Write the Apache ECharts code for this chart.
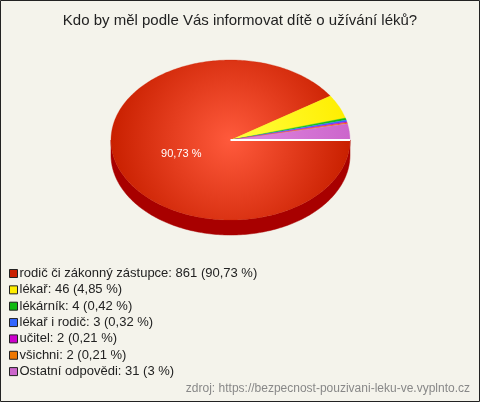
<!DOCTYPE html>
<html>
<head>
<meta charset="utf-8">
<script src="https://cdn.jsdelivr.net/npm/echarts@6/dist/echarts.min.js"></script>
<style>
html,body{margin:0;padding:0;background:#f4f3eb;}
#chart{width:480px;height:402px;}
</style>
</head>
<body>
<div id="chart"></div>
<script>
const titleText = 'Kdo by měl podle Vás informovat dítě o užívání léků?';
const sourceText = 'zdroj: https://bezpecnost-pouzivani-leku-ve.vyplnto.cz';
const categories = ['rodič či zákonný zástupce', 'lékař', 'lékárník', 'lékař i rodič', 'učitel', 'všichni', 'Ostatní odpovědi'];
const counts = [861, 46, 4, 3, 2, 2, 31];
const percents = ['90,73', '4,85', '0,42', '0,32', '0,21', '0,21', '3'];
const sliceLabel = '90,73 %';

const palette = ['#c92000', '#ffee00', '#11bb11', '#3366ff', '#cc00cc', '#ee7700', '#cc66cc'];
const centerColors = ['#ff5a3c', '#ffff40', '#33dd33', '#6688ff', '#ee33ee', '#ff9933', '#e088e0'];
const sideColors = ['#a80000', '#ccbb00', '#008800', '#1133cc', '#990099', '#bb5500', '#995599'];

const total = counts.reduce((a, b) => a + b, 0);
const cum = [0];
counts.forEach((v, i) => cum.push(cum[i] + v / total * Math.PI * 2));

const CX = 230.5, CY = 140, RX = 119.5, RY = 80, DEPTH = 15;

function pt(a, dy) { return [CX + RX * Math.cos(a), CY + RY * Math.sin(a) + (dy || 0)]; }
function arc(a0, a1, dy) {
  const pts = [];
  const n = Math.max(2, Math.ceil(Math.abs(a1 - a0) / (Math.PI / 180)));
  for (let k = 0; k <= n; k++) pts.push(pt(a0 + (a1 - a0) * k / n, dy));
  return pts;
}

function makeRender(i) {
  return function (params, api) {
    const a0 = cum[i], a1 = cum[i + 1];
    const children = [];
    const s0 = Math.max(a0, 0), s1 = Math.min(a1, Math.PI);
    if (s1 > s0) {
      const top = arc(s0, s1, 0);
      const bot = arc(s1, s0, DEPTH);
      children.push({
        type: 'polygon', z2: 1,
        shape: { points: top.concat(bot) },
        style: { fill: sideColors[i], stroke: sideColors[i], lineWidth: 0.5 }
      });
    }
    const pts = [[CX, CY]].concat(arc(a0, a1, 0));
    children.push({
      type: 'polygon', z2: 5,
      shape: { points: pts },
      style: {
        fill: new echarts.graphic.RadialGradient(CX, CY, RX, [
          { offset: 0, color: centerColors[i] },
          { offset: 1, color: palette[i] }
        ], true),
        stroke: palette[i], lineWidth: 0.3
      }
    });
    if (i === 0) {
      children.push({
        type: 'line', z2: 20,
        shape: { x1: CX, y1: CY, x2: CX + RX, y2: CY },
        style: { stroke: '#ffffff', lineWidth: 2 }
      });
      const mid = (a0 + a1) / 2;
      children.push({
        type: 'text', z2: 30,
        x: CX + RX * 0.43 * Math.cos(mid), y: CY + RY * 0.43 * Math.sin(mid) + 4,
        style: { text: sliceLabel, fill: '#ffffff', font: '11px "Liberation Sans", Arial, sans-serif', align: 'center', verticalAlign: 'middle' }
      });
    }
    return { type: 'group', children: children };
  };
}

const chart = echarts.init(document.getElementById('chart'), null, { renderer: 'canvas' });
const series = categories.map((name, i) => ({
  type: 'custom', name: name, coordinateSystem: 'none', silent: true,
  itemStyle: { color: palette[i] },
  data: [[counts[i]]],
  renderItem: makeRender(i)
}));

chart.setOption({
  animation: false,
  backgroundColor: '#f4f3eb',
  title: {
    text: titleText, left: 'center', top: 8,
    textStyle: { fontFamily: '"Liberation Sans", Arial, sans-serif', fontSize: 15, fontWeight: 'normal', color: '#222' }
  },
  legend: {
    orient: 'vertical', left: 4, top: 262,
    itemWidth: 8, itemHeight: 8, itemGap: 3.35, icon: 'rect',
    itemStyle: { borderColor: '#222', borderWidth: 1 },
    selectedMode: false,
    textStyle: { fontFamily: '"Liberation Sans", Arial, sans-serif', fontSize: 13, color: '#222', padding: [0, 0, 0, -3] },
    formatter: function (name) {
      const i = categories.indexOf(name);
      return name + ': ' + counts[i] + ' (' + percents[i] + ' %)';
    },
    data: categories
  },
  graphic: [
    { type: 'rect', silent: true, z: 100, shape: { x: 0.5, y: 0.5, width: 479, height: 401 }, style: { fill: 'none', stroke: '#222', lineWidth: 1 } },
    { type: 'text', right: 10, top: 383, style: { text: sourceText, fill: '#888', font: '12px "Liberation Sans", Arial, sans-serif' } }
  ],
  series: series
});
</script>
</body>
</html>
